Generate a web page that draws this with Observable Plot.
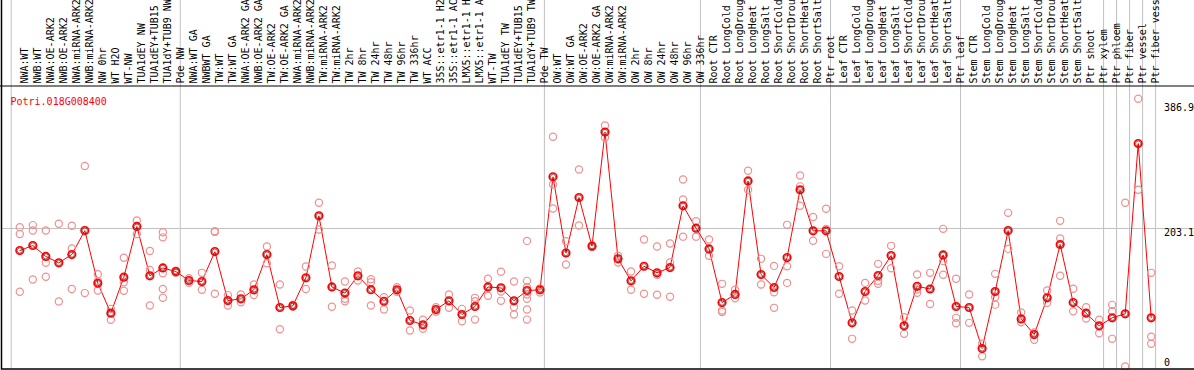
<!DOCTYPE html>
<html>
<head>
<meta charset="utf-8">
<script src="https://cdn.jsdelivr.net/npm/d3@7"></script>
<script src="https://cdn.jsdelivr.net/npm/@observablehq/plot@0.6"></script>
<style>
  html, body { margin: 0; padding: 0; background: #fff; }
  #chart svg { display: block; }
</style>
</head>
<body>
<div id="chart"></div>
<script>
const title = "Potri.018G008400";

const categories = [
  "NWA:WT","NWB:WT","NWA:OE-ARK2","NWB:OE-ARK2","NWA:miRNA-ARK2","NWB:miRNA-ARK2","NW 0hr","WT H2O","WT-NW","TUA1dEY NW","TUA1dEY+TUB15 NW","TUA1dY+TUB9 NW","Pde NW",
  "NWA:WT GA","NWBWT GA","TW:WT","TW:WT GA","NWA:OE-ARK2 GA","NWB:OE-ARK2 GA","TW:OE-ARK2","TW:OE-ARK2 GA","NWA:miRNA-ARK2 GA","NWB:miRNA-ARK2 GA","TW:miRNA-ARK2","TW:miRNA-ARK2 GA",
  "TW 2hr","TW 8hr","TW 24hr","TW 48hr","TW 96hr","TW 336hr","WT ACC","35S::etr1-1 H2O","35S::etr1-1 ACC","LMX5::etr1-1 H2O","LMX5::etr1-1 ACC","WT-TW","TUA1dEY TW","TUA1dEY+TUB15 TW","TUA1dY+TUB9 TW","Pde TW",
  "OW:WT","OW:WT GA","OW:OE-ARK2","OW:OE-ARK2 GA","OW:miRNA-ARK2","OW:miRNA-ARK2 GA","OW 2hr","OW 8hr","OW 24hr","OW 48hr","OW 96hr","OW 336hr",
  "Root CTR","Root LongCold","Root LongDrought","Root LongHeat","Root LongSalt","Root ShortCold","Root ShortDrought","Root ShortHeat","Root ShortSalt","Ptr root",
  "Leaf CTR","Leaf LongCold","Leaf LongDrought","Leaf LongHeat","Leaf LongSalt","Leaf ShortCold","Leaf ShortDrought","Leaf ShortHeat","Leaf ShortSalt","Ptr leaf",
  "Stem CTR","Stem LongCold","Stem LongDrought","Stem LongHeat","Stem LongSalt","Stem ShortCold","Stem ShortDrought","Stem ShortHeat","Stem ShortSalt","Ptr shoot","Ptr xylem",
  "Ptr phloem","Ptr fiber","Ptr vessel","Ptr fiber vessel"
];

// number of categories in each separated group (left to right)
const groupSizes = [13, 28, 12, 10, 10, 11, 1, 1, 1, 1];

const means = [
  170.6,178,162,152.5,164.7,200,122.5,78.4,131.4,206,133.4,145,139.7,
  126.5,125,169,97,99.5,112.8,164.7,86.8,89.3,130.4,221.6,117,
  108,133.4,113,96,112.8,67.7,61.3,83.8,96.6,76.5,88.3,117,115.7,96.6,111.8,112.8,
  279,167,248.6,177,345,158.4,126,147.5,137.8,145.6,236.4,203.5,
  173,94,106,273,135.3,116.2,160.3,260,199.6,199.6,
  132.4,64.2,110.3,133.9,163.3,59.8,118,114,164.2,88.3,
  86.8,26.5,110.3,200,70,47,101,179.5,94,78.4,59.8,
  71.6,77.5,328,71.6
];

const replicates = [
  [205,195,110],[208,200,128],[200,152.5,132],[210,95.6],[207,173.5,114],[295,108],[135.8,125.5,111.8],[84.8,68.7],[160,124,111.3],[214.8,195],[170,142,89.7],[197.5,190,137,114,101],[141,138],
  [130,123],[137.8,112.8],[199,198,107],[105,89.7],[106,94.6],[120.6,105],[176.5,152],[120.6,54.9],[91,88],[147,114],[241,201.5],[148.6,88],
  [125,99.5,96],[139.7,126.5],[128.4,124,89.7],[102,83.8],[116.7,110],[82.4,53],[68.7,55.5],[87.3,80.5],[106,86.3],[84.8,66.6],[101,96,69],[129,104],[139.3,110.3,96.6],[125,87.3,76.5],[184.8,126,116.7,106,99.5,83.8,69],[115,109],
  [338,267.7,232.4],[184.3,150],[289.8,207.4],[178,176],[354.5,337],[163,153],[139.7,112.8],[186.8,107],[176.5,135,105.5],[181,153,102.5],[275,245.6,191],[213.7,191],
  [186.8,163],[121.6,82.4,80],[112.8,100.5],[288,260],[158.4,120.6],[148,109.3,86.3],[208.4,147.5,123],[281,265,236.4],[220,185],[232,202.5,165.7],
  [147.5,107],[82.4,40.7],[123,97],[151,121.6,126],[177.5,144.6],[72.5,48],[135.3,113.2,108.4],[137.8,92],[202.5,155,135],[129,71.6,63.7],
  [106,64.2],[33.4,15],[136.3,102,91],[226,173],[79.4,65.2],[50,39.2],[111.8,93.7],[214.3,188.3,133.4],[114.3,81.3],[87.3,70.6],[68.7,49],
  [90.7,81.3,40.7],[240.8,0],[393.8,260],[137.8,43.7,33.4]
];

const yTicks = [386.9, 203.1];
const yZero = [0];
const gridY = [203.1];

// derived tables
const meanData = means.map((v, i) => ({i, v}));
const repData = replicates.flatMap((arr, i) => arr.map(v => ({i, v})));
const boundaries = [0];
groupSizes.forEach(n => boundaries.push(boundaries[boundaries.length - 1] + n));

const chart = Plot.plot({
  width: 1194,
  height: 370,
  marginTop: 85.5,
  marginLeft: 1,
  marginRight: 0,
  marginBottom: 1.5,
  style: {fontFamily: "'DejaVu Sans Mono', monospace", fontSize: "10px", background: "#fff", overflow: "visible"},
  x: {type: "linear", domain: [0, categories.length - 1], range: [19.3, 1150.7], axis: null},
  y: {type: "linear", domain: [0, 386.9], range: [366, 103], axis: null},
  marks: [
    Plot.ruleX(boundaries, {x: d => d, dx: -8.6, stroke: "#c0c0c0", strokeWidth: 1, insetTop: -86}),
    Plot.ruleY(gridY, {y: d => d, stroke: "#c0c0c0", strokeWidth: 1}),
    Plot.line(meanData, {x: "i", y: "v", stroke: "#ff0000", strokeWidth: 1}),
    Plot.dot(repData, {x: "i", y: "v", r: 3.6, stroke: "#f09090", strokeWidth: 1.2, fill: "none"}),
    Plot.dot(meanData, {x: "i", y: "v", r: 3.8, stroke: "#ff0000", strokeWidth: 1.6, fill: "none"}),
    Plot.dot(meanData, {x: "i", y: "v", r: 2.6, stroke: "#600000", strokeWidth: 0.6, fill: "none"}),
    Plot.text(categories, {x: (d, i) => i, text: d => d, frameAnchor: "top", rotate: -90, textAnchor: "start", dx: 1, dy: -2.5, fill: "black"}),
    Plot.text([title], {text: d => d, frameAnchor: "top-left", textAnchor: "start", dx: 9, dy: 11.5, fill: "#ff0000"}),
    Plot.text(yTicks, {y: d => d, text: d => String(d), frameAnchor: "right", textAnchor: "start", dx: -30.5, dy: 4, fill: "black"}),
    Plot.text(yZero, {y: d => d, text: d => String(d), frameAnchor: "right", textAnchor: "start", dx: -30.5, dy: -4, fill: "black"}),
    Plot.frame({stroke: "black", strokeWidth: 1.5, insetTop: -100, insetRight: -10}),
    Plot.frame({stroke: "black", strokeWidth: 1, insetLeft: -10, insetRight: -10, insetBottom: -10})
  ]
});
document.getElementById("chart").append(chart);
</script>
</body>
</html>
